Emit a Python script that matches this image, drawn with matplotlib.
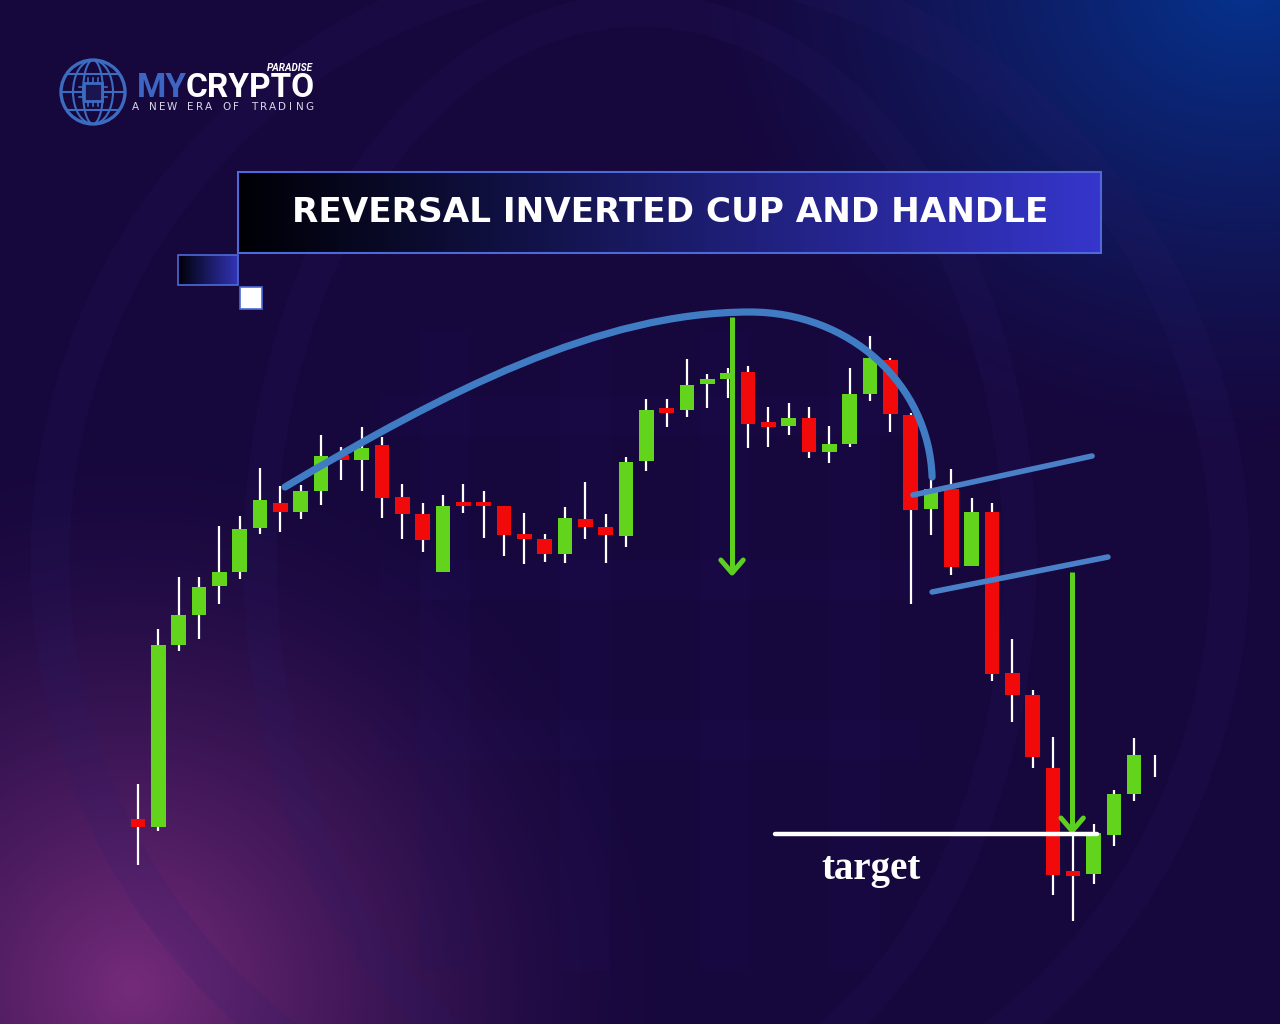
import numpy as np
import matplotlib
matplotlib.use("Agg")
import matplotlib.pyplot as plt
from matplotlib.path import Path
from matplotlib.patches import PathPatch, Rectangle, Circle, Ellipse

# ---------------------------------------------------------------- data
# OHLC candles (price units), one per session
opens = [18.1, 17.3, 35.5, 38.5, 41.4, 42.8, 47.2, 49.7, 48.8, 50.9,
         54.5, 54.0, 55.5, 50.3, 48.6, 42.8, 49.8, 49.8, 49.4, 46.6,
         46.1, 44.6, 48.1, 47.3, 46.4, 53.9, 59.2, 59.0, 61.6, 62.1,
         62.8, 57.8, 57.4, 58.2, 54.8, 55.6, 60.6, 64.0, 58.5, 49.1,
         51.1, 43.4, 48.8, 32.7, 30.5, 23.2, 12.9, 12.6, 16.5, 20.6,
         23.4]
highs = [21.6, 37.1, 42.3, 42.3, 47.4, 48.4, 53.2, 51.4, 51.5, 56.5,
         55.3, 57.3, 56.3, 51.6, 49.7, 50.5, 51.6, 50.9, 49.4, 48.7,
         46.6, 49.3, 51.8, 48.6, 54.3, 60.1, 60.1, 64.1, 62.6, 63.2,
         63.4, 59.3, 59.7, 59.3, 57.4, 63.2, 66.4, 64.2, 58.7, 52.0,
         53.1, 50.2, 49.7, 36.1, 31.0, 26.3, 17.3, 17.6, 21.0, 26.2,
         24.5]
lows = [13.5, 16.9, 34.9, 36.1, 39.6, 42.1, 46.6, 46.8, 48.1, 49.5,
        52.0, 50.9, 48.2, 46.1, 44.8, 42.8, 48.7, 46.2, 44.4, 43.6,
        43.8, 43.7, 46.1, 43.7, 45.3, 52.9, 57.3, 58.3, 59.2, 60.2,
        55.2, 55.3, 56.5, 54.2, 53.7, 55.3, 59.9, 56.8, 39.6, 46.5,
        42.5, 43.4, 31.9, 27.8, 23.2, 10.5, 7.9, 11.6, 15.4, 19.9,
        22.3]
closes = [17.3, 35.5, 38.5, 41.3, 42.8, 47.1, 50.0, 48.8, 50.9, 54.4,
          54.0, 55.2, 50.2, 48.6, 46.0, 49.4, 49.4, 49.4, 46.5, 46.1,
          44.6, 48.2, 47.3, 46.5, 53.8, 59.0, 58.7, 61.5, 62.1, 62.7,
          57.6, 57.3, 58.2, 54.8, 55.6, 60.6, 64.2, 58.6, 49.0, 51.1,
          43.3, 48.8, 32.6, 30.5, 24.3, 12.5, 12.4, 16.7, 20.6, 24.5,
          23.4]

# inverted cup drawn as two cubic Bezier segments (session index, price)
cup_left_x = [7.23, 15.1, 22.7, 30.1]
cup_left_y = [51.3, 60.8, 68.8, 68.8]
cup_right_x = [30.1, 35.0, 38.9, 39.06]
cup_right_y = [68.8, 68.8, 61.6, 52.3]

# handle channel
handle_top_x = [38.12, 46.93]
handle_top_y = [50.5, 54.4]
handle_bot_x = [39.06, 47.71]
handle_bot_y = [40.8, 44.3]

# measured move arrows: x, start price, end price
arrow_x = [29.22, 45.95]
arrow_from = [68.3, 42.8]
arrow_to = [42.7, 16.9]

# price target
target_price = 16.6
target_x = [31.33, 47.17]
target_label = "target"

TITLE = "REVERSAL INVERTED CUP AND HANDLE"

# ---------------------------------------------------------------- style
W, H = 1280, 1024
GREEN = "#62d41c"
RED = "#f20a0a"
WICK = "#ffffff"
CUP_BLUE = "#3f7cc4"
ARROW_GREEN = "#5ccf21"

fig = plt.figure(figsize=(W / 100, H / 100), dpi=100)

# ---------------------------------------------------------------- backdrop
bg = fig.add_axes([0, 0, 1, 1], zorder=0)
bg.set_xlim(0, W)
bg.set_ylim(H, 0)
bg.axis("off")

gx, gy = np.meshgrid(np.linspace(0, W, 320), np.linspace(0, H, 256))
base = np.array([0.088, 0.030, 0.240])
img = np.ones(gy.shape + (3,)) * base
# purple glow bottom-left
d1 = np.hypot(gx - 130, gy - 990) / 540.0
g1 = np.clip(1 - d1, 0, 1) ** 1.5
img += g1[..., None] * (np.array([0.46, 0.17, 0.48]) - base)
# blue glow top-right
d2 = np.hypot((gx - 1250) * 0.85, gy + 20) / 470.0
g2 = np.clip(1 - d2, 0, 1) ** 1.3
img += g2[..., None] * (np.array([0.02, 0.20, 0.56]) - base)
img = np.clip(img, 0, 1)
bg.imshow(img, extent=(0, W, H, 0), aspect="auto", interpolation="bicubic", zorder=0)

# faint watermark emblem
wm = dict(fill=False, edgecolor="#2a1d6a", alpha=0.16, zorder=1)
bg.add_patch(Ellipse((640, 560), 1180, 1200, lw=28, **wm))
bg.add_patch(Ellipse((640, 560), 760, 1100, lw=24, **wm))
for x0, x1 in [(420, 470), (560, 610), (700, 750), (830, 880)]:
    bg.add_patch(Rectangle((x0, 330), x1 - x0, 640, facecolor="#23155e",
                           edgecolor="none", alpha=0.14, zorder=1))
for y0 in [395, 560, 720]:
    bg.add_patch(Rectangle((380, y0), 540, 40, facecolor="#23155e",
                           edgecolor="none", alpha=0.12, zorder=1))

# ---------------------------------------------------------------- logo
gc = (93, 92)
logo_blue = "#3b6cc0"
bg.add_patch(Circle(gc, 32, fill=False, edgecolor=logo_blue, lw=2.4, zorder=3))
for w in (40, 20):
    bg.add_patch(Ellipse(gc, w, 64, fill=False, edgecolor=logo_blue, lw=1.5, zorder=3))
for dy in (-18, 0, 18):
    half = np.sqrt(32 ** 2 - dy ** 2)
    bg.plot([gc[0] - half, gc[0] + half], [gc[1] + dy, gc[1] + dy],
            color=logo_blue, lw=1.5, zorder=3)
bg.add_patch(Rectangle((gc[0] - 9, gc[1] - 9), 18, 18, facecolor="#1a1450",
                       edgecolor=logo_blue, lw=2, zorder=4))
for k in (-5, 0, 5):
    bg.plot([gc[0] + k, gc[0] + k], [gc[1] - 14, gc[1] - 9], color=logo_blue, lw=1.2, zorder=4)
    bg.plot([gc[0] + k, gc[0] + k], [gc[1] + 9, gc[1] + 14], color=logo_blue, lw=1.2, zorder=4)
    bg.plot([gc[0] - 14, gc[0] - 9], [gc[1] + k, gc[1] + k], color=logo_blue, lw=1.2, zorder=4)
    bg.plot([gc[0] + 9, gc[0] + 14], [gc[1] + k, gc[1] + k], color=logo_blue, lw=1.2, zorder=4)

t_my = bg.text(137, 97, "MY", color="#3d66c4", fontsize=24, fontweight="bold",
               family="Roboto", va="baseline", ha="left", zorder=5)
fig.canvas.draw()
rend = fig.canvas.get_renderer()
bb = t_my.get_window_extent(rend)
bg.text(137 + bb.width - 1, 97, "CRYPTO", color="white", fontsize=24, fontweight="bold",
        family="Roboto", va="baseline", ha="left", zorder=5)
bg.text(313, 71, "PARADISE", color="white", fontsize=7.2, fontweight="bold",
        style="italic", family="Roboto", va="baseline", ha="right", zorder=5)
tag = "A NEW ERA OF TRADING"
xs = np.linspace(135, 309, len(tag))
for ch, xc in zip(tag, xs):
    bg.text(xc, 110, ch, color="#d8d8e8", fontsize=7.5, family="DejaVu Sans",
            ha="center", va="baseline", zorder=5)

# ---------------------------------------------------------------- title banner
def gradient_box(x0, y0, x1, y1, c_left, c_right, edge, lw):
    t = np.linspace(0, 1, 256)
    cl, cr = np.array(c_left), np.array(c_right)
    ramp = (cl[None, :] * (1 - t[:, None]) + cr[None, :] * t[:, None])[None, :, :]
    bg.imshow(ramp, extent=(x0, x1, y1, y0), aspect="auto", zorder=4)
    bg.add_patch(Rectangle((x0, y0), x1 - x0, y1 - y0, fill=False,
                           edgecolor=edge, lw=lw, zorder=5))

gradient_box(238, 172, 1101, 253, (0.0, 0.0, 0.02), (0.21, 0.21, 0.80), "#4e6ad8", 1.5)
gradient_box(178, 255, 238, 285, (0.0, 0.0, 0.03), (0.20, 0.20, 0.72), "#4e6ad8", 1.2)
bg.add_patch(Rectangle((240, 287), 22, 22, facecolor="white", edgecolor="#4e6ad8",
                       lw=1.2, zorder=5))

title = bg.text(670, 213, TITLE, color="white", fontsize=26, fontweight="bold",
                family="DejaVu Sans", ha="center", va="center", zorder=6)
fig.canvas.draw()
tw = title.get_window_extent(rend).width
title.set_fontsize(26 * 760.0 / tw)

# ---------------------------------------------------------------- chart
x0_px, step_px = 138.0, 20.33
ax = fig.add_axes([0, 0, 1, 1], zorder=2)
ax.patch.set_alpha(0)
ax.set_xlim(-x0_px / step_px, (W - x0_px) / step_px)
ax.set_ylim((1000 - H) / 10.0, 100.0)
ax.axis("off")

idx = np.arange(len(opens))
o = np.array(opens); c = np.array(closes)
hi = np.array(highs); lo = np.array(lows)
up = c >= o
colors = np.where(up, GREEN, RED)

ax.vlines(idx, lo, hi, color=WICK, lw=1.6, zorder=3)
ax.bar(idx, np.abs(c - o), bottom=np.minimum(o, c), width=0.72,
       color=colors, edgecolor="none", zorder=4)

# inverted cup
verts = list(zip(cup_left_x, cup_left_y)) + list(zip(cup_right_x[1:], cup_right_y[1:]))
codes = [Path.MOVETO] + [Path.CURVE4] * 6
ax.add_patch(PathPatch(Path(verts, codes), fill=False, edgecolor=CUP_BLUE, lw=5.2,
                       capstyle="round", zorder=6))

# handle channel
for hx, hy in [(handle_top_x, handle_top_y), (handle_bot_x, handle_bot_y)]:
    ax.plot(hx, hy, color="#4a80c8", lw=4.0, solid_capstyle="round", zorder=6)

# measured move arrows
for xa, y_from, y_to in zip(arrow_x, arrow_from, arrow_to):
    ax.plot([xa, xa], [y_from, y_to], color=ARROW_GREEN, lw=3.6,
            solid_capstyle="butt", zorder=7)
    ax.plot([xa - 0.55, xa, xa + 0.55], [y_to + 1.3, y_to, y_to + 1.3],
            color=ARROW_GREEN, lw=3.6, solid_capstyle="round",
            solid_joinstyle="round", zorder=7)

# target level
ax.plot(target_x, [target_price, target_price], color="white", lw=3.2,
        solid_capstyle="round", zorder=8)
ax.text(np.mean(target_x) - 3.2, target_price - 3.5, target_label, color="white",
        fontsize=28, fontweight="bold", family="Liberation Serif",
        ha="center", va="center", zorder=8)

fig.savefig("out.png", dpi=100)
